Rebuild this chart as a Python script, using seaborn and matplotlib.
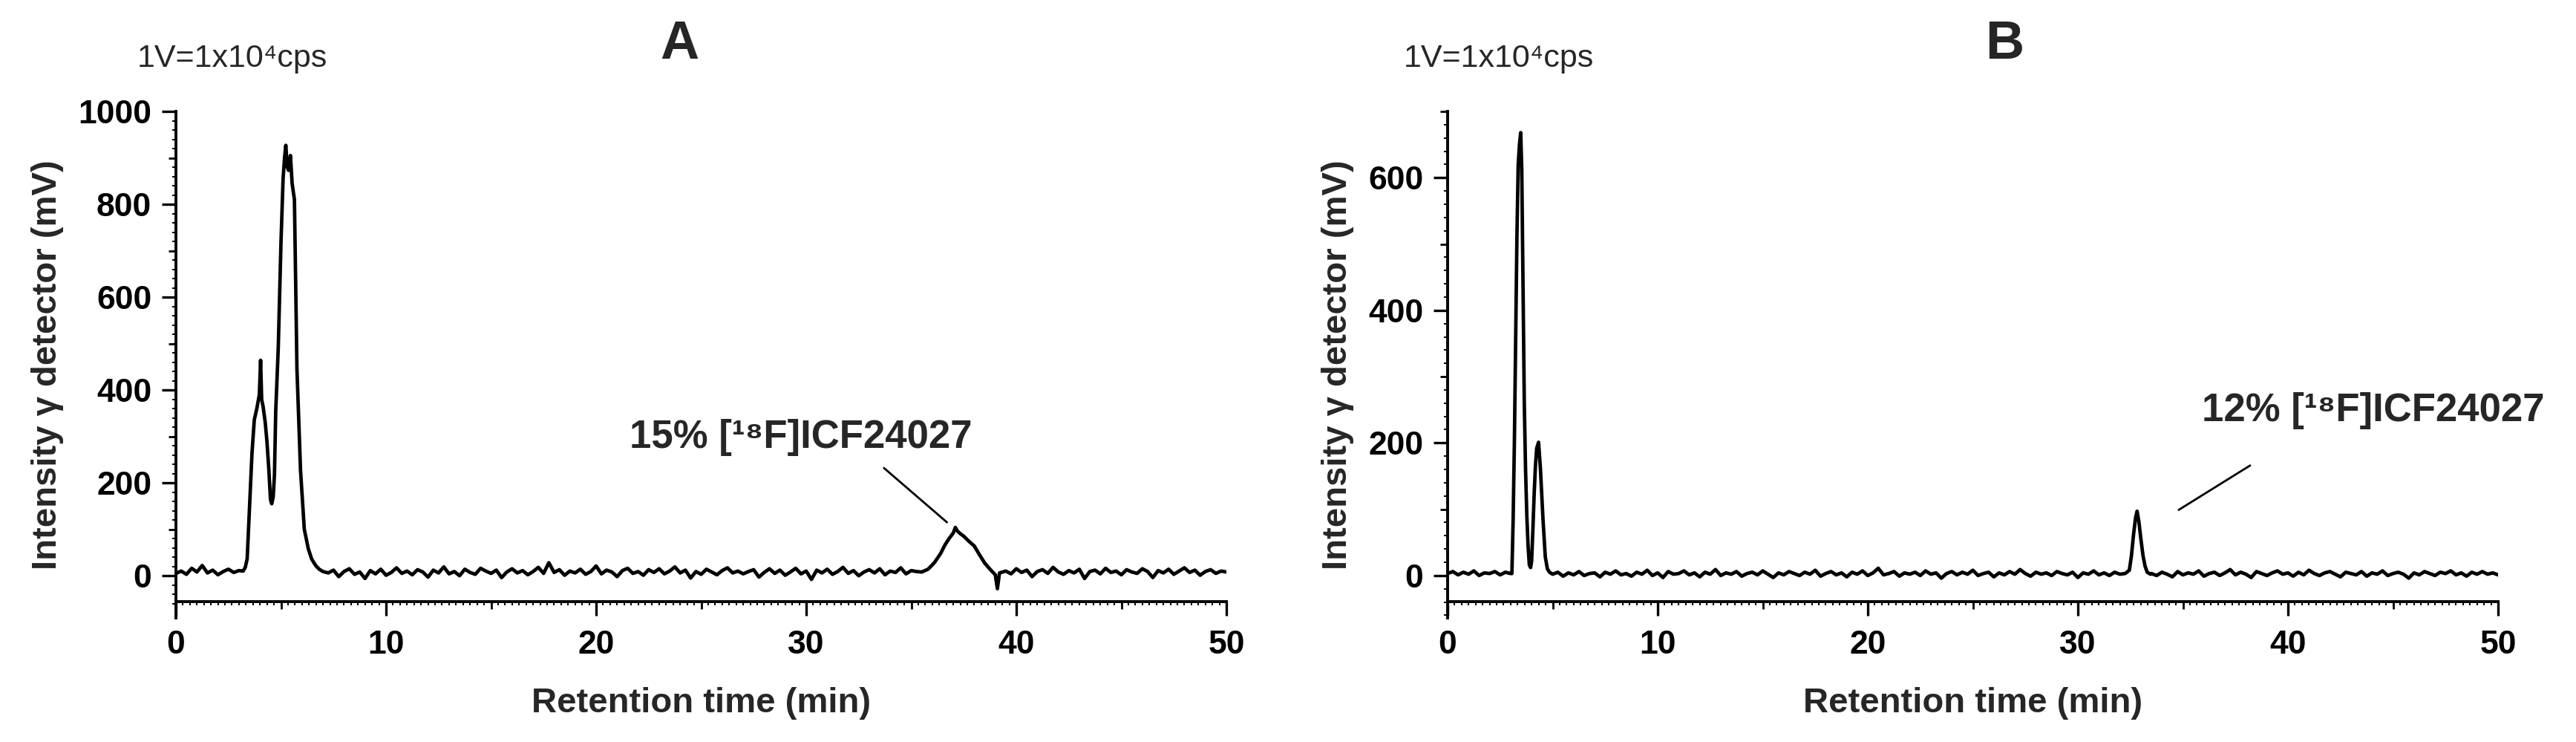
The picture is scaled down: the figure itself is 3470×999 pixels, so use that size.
import numpy as np
import pandas as pd
import matplotlib
matplotlib.use("Agg")
import matplotlib.pyplot as plt
from matplotlib.ticker import MultipleLocator
import seaborn as sns

# ---------------- data ----------------
# Panel A
a_base1_t = np.arange(0.0, 3.001, 0.25)
a_base1_mv = [5, 10, 3, 16, 8, 22, 6, 12, 2, 9, 14, 7, 11]
a_peak_t = [3.2, 3.3, 3.39, 3.5, 3.62, 3.73, 3.85, 3.97, 4.03, 4.08, 4.15, 4.25, 4.33,
            4.42, 4.5, 4.56, 4.63, 4.69, 4.75, 4.87, 5.0, 5.1, 5.17, 5.23, 5.3, 5.36,
            5.45, 5.53, 5.64, 5.76, 5.93, 6.11, 6.3, 6.46, 6.65, 6.82, 7.0]
a_peak_mv = [10, 18, 36, 145, 264, 336, 360, 390, 464, 380, 364, 330, 290,
             230, 164, 155, 170, 218, 355, 490, 718, 855, 900, 927, 880, 873,
             905, 845, 810, 445, 227, 100, 58, 36, 22, 14, 9]
a_base2_t = np.arange(7.25, 35.251, 0.25)
a_base2_mv = [6, 12, -2, 9, 15, 3, 8, -6,
              11, 4, 14, 1, 7, 17, 5, 10,
              2, 13, 8, -3, 12, 6, 19, 4,
              9, 0, 14, 7, 3, 16, 10, 5,
              12, -4, 8, 15, 6, 11, 2, 9,
              18, 5, 28, 7, 13, 1, 10, 6,
              14, 3, 9, 21, 4, 12, 8, -2,
              11, 16, 5, 9, 1, 13, 7, 15,
              4, 10, 19, 6, 12, -5, 9, 3,
              14, 8, 2, 11, 17, 6, 10, 4,
              9, 13, -3, 7, 15, 5, 12, 1,
              8, 16, 4, 10, -8, 12, 6, 14,
              3, 9, 18, 5, 11, 0, 8, 13,
              6, 15, 2, 10, 7, 17, 4, 11,
              9]
a_peak2_t = [35.5, 35.8, 36.1, 36.4, 36.6, 36.8, 37.0, 37.1, 37.2, 37.35, 37.5,
             37.75, 38.0, 38.25, 38.5, 38.75, 39.0, 39.1, 39.2]
a_peak2_mv = [8, 14, 28, 48, 66, 80, 92, 104, 96, 90, 85, 74, 64, 45, 27, 14, 2, -28, 6]
a_base3_t = np.arange(39.5, 50.001, 0.25)
a_base3_mv = [10, 4, 15, 7, 12, -2, 9, 13, 5, 18, 8, 3, 11, 6, 14, -6, 9, 12, 4, 16,
              7, 10, 2, 13, 8, 5, 15, 9, -4, 11, 6, 14, 3, 10, 17, 7, 12, 1, 9, 13,
              5, 10, 8]

# Panel B
b_base1_t = np.arange(0.0, 3.001, 0.25)
b_base1_mv = [3, 6, 1, 5, 2, 7, 0, 4, 3, 6, 1, 5, 3]
b_peak_t = [3.06, 3.12, 3.18, 3.24, 3.30, 3.36, 3.42, 3.48, 3.53, 3.59, 3.65, 3.71,
            3.77, 3.83, 3.89, 3.95, 4.0, 4.06, 4.12, 4.18, 4.24, 4.33, 4.42, 4.54,
            4.65, 4.75, 4.85]
b_peak_mv = [3, 85, 204, 361, 512, 620, 650, 668, 613, 437, 261, 160,
             91, 45, 16, 12, 22, 70, 123, 165, 192, 201, 160, 85,
             28, 10, 5]
b_base2_t = np.arange(5.0, 32.001, 0.25)
b_base2_mv = [2, 5, -1, 4, 1, 6, 0, 3,
              4, -2, 5, 2, 7, 1, 3, -1,
              5, 2, 8, 0, 4, -3, 6, 2,
              3, 7, 1, 4, -2, 5, 2, 9,
              0, 4, 2, 6, -1, 3, 5, 1,
              7, 2, -3, 4, 1, 6, 3, 0,
              5, 2, 8, -1, 3, 6, 1, 4,
              -2, 5, 2, 7, 0, 4, 11, 1,
              3, 6, -1, 4, 2, 5, 0, 7,
              2, 4, -4, 3, 6, 1, 5, 2,
              8, 0, 3, 5, -2, 4, 1, 6,
              2, 9, 3, -1, 5, 2, 4, 0,
              6, 3, 1, 5, -3, 4, 2, 7,
              1, 4, 0, 5, 2]
b_peak2_t = [32.25, 32.45, 32.55, 32.65, 32.75, 32.82, 32.9, 33.0, 33.1, 33.2, 33.3, 33.45]
b_peak2_mv = [3, 8, 30, 62, 88, 97, 82, 55, 30, 14, 5, 2]
b_base3_t = np.arange(33.5, 50.001, 0.25)
b_base3_mv = [3, 0, 5, 2, -2, 6, 1, 4,
              2, 7, -1, 3, 5, 0, 4, 9,
              1, 5, 2, -3, 6, 3, 0, 4,
              7, 2, 4, -1, 5, 1, 8, 3,
              0, 4, 6, 2, -2, 5, 3, 1,
              6, -1, 4, 2, 7, 0, 3, 5,
              2, -4, 4, 1, 6, 3, 0, 5,
              3, 7, 1, 4, -1, 5, 2, 6,
              2, 4, 1]

x_ticks = [0, 10, 20, 30, 40, 50]
a_yticks = [0, 200, 400, 600, 800, 1000]
b_yticks = [0, 200, 400, 600]
unit_text = "1V=1x10\u2074cps"
label_a = "15% [\u00b9\u2078F]ICF24027"
label_b = "12% [\u00b9\u2078F]ICF24027"
xlabel = "Retention time (min)"
ylabel = "Intensity \u03b3 detector (mV)"


def trace(parts):
    t = np.concatenate([np.asarray(p[0], float) for p in parts])
    v = np.concatenate([np.asarray(p[1], float) for p in parts])
    order = np.argsort(t, kind="stable")
    return pd.DataFrame({"t": t[order], "mv": v[order]})


df_a = trace([(a_base1_t, a_base1_mv), (a_peak_t, a_peak_mv), (a_base2_t, a_base2_mv),
              (a_peak2_t, a_peak2_mv), (a_base3_t, a_base3_mv)])
df_b = trace([(b_base1_t, b_base1_mv), (b_peak_t, b_peak_mv), (b_base2_t, b_base2_mv),
              (b_peak2_t, b_peak2_mv), (b_base3_t, b_base3_mv)])

# ---------------- style ----------------
sns.set_theme(style="ticks")
plt.rcParams["font.family"] = ["Liberation Sans", "DejaVu Sans"]
plt.rcParams["font.weight"] = "bold"
plt.rcParams["axes.labelweight"] = "bold"

W, H = 3470, 999
fig = plt.figure(figsize=(W / 100, H / 100), dpi=100)
top_px, bot_px = 150, 832
axA = fig.add_axes([237 / W, 1 - bot_px / H, 1415 / W, (bot_px - top_px) / H])
axB = fig.add_axes([1950 / W, 1 - bot_px / H, 1415 / W, (bot_px - top_px) / H])


def style_axis(ax, df, ylim, xaxis_at, yticks):
    sns.lineplot(data=df, x="t", y="mv", ax=ax, color="black", linewidth=3.4,
                 estimator=None, sort=False, legend=False)
    ax.set_xlim(0, 50)
    ax.set_ylim(*ylim)
    ax.set_xticks(x_ticks)
    ax.set_yticks(yticks)
    ax.xaxis.set_minor_locator(MultipleLocator(5))
    ax.yaxis.set_minor_locator(MultipleLocator(100))
    for s in ["top", "right"]:
        ax.spines[s].set_visible(False)
    for s in ["left", "bottom"]:
        ax.spines[s].set_linewidth(2.8)
        ax.spines[s].set_color("black")
    ax.spines["bottom"].set_position(("data", xaxis_at))
    ax.tick_params(axis="both", which="major", direction="out", length=13.5, width=2.4,
                   labelsize=32, color="black", labelcolor="black")
    ax.tick_params(axis="both", which="minor", direction="out", length=7.5, width=2.0,
                   color="black")
    ax.tick_params(axis="y", which="major", pad=10)
    ax.tick_params(axis="x", which="major", pad=14)
    ax.set_xlabel(xlabel, fontsize=34, fontweight="bold", labelpad=26)
    ax.set_ylabel(ylabel, fontsize=34, fontweight="bold", labelpad=14)
    ax.set_facecolor("white")

    # fine "dotted" ticks along both axes (Origin style)
    frac = (xaxis_at - ylim[0]) / (ylim[1] - ylim[0])
    secx = ax.secondary_xaxis(frac)
    secx.set_xticks(np.arange(0, 50.001, 1 / 3))
    secx.tick_params(axis="x", which="major", direction="out", length=3.5, width=1.4,
                     labelbottom=False, color="black")
    secx.xaxis.set_minor_locator(plt.NullLocator())
    for sp in secx.spines.values():
        sp.set_visible(False)
    secy = ax.secondary_yaxis(0)
    secy.set_yticks(np.arange(-60, ylim[1] + 0.1, 20))
    secy.tick_params(axis="y", which="major", direction="out", length=3.5, width=1.4,
                     labelleft=False, color="black")
    secy.yaxis.set_minor_locator(plt.NullLocator())
    for sp in secy.spines.values():
        sp.set_visible(False)


style_axis(axA, df_a, (-91, 1000), -56, a_yticks)
style_axis(axB, df_b, (-64, 700), -39, b_yticks)

# annotations
axA.text(37.9, 276, label_a, ha="right", va="baseline", fontsize=38, fontweight="bold")
axA.plot([33.7, 36.7], [232, 115], color="black", linewidth=2)
axB.text(35.9, 233, label_b, ha="left", va="baseline", fontsize=38, fontweight="bold",
         clip_on=False)
axB.plot([34.8, 38.2], [99, 166], color="black", linewidth=2)

# figure texts
fig.text(185 / W, 1 - 90 / H, unit_text, ha="left", va="baseline", fontsize=31,
         fontweight="normal")
fig.text(1891 / W, 1 - 90 / H, unit_text, ha="left", va="baseline", fontsize=31,
         fontweight="normal")
fig.text(915 / W, 1 - 60 / H, "A", ha="center", va="center", fontsize=52, fontweight="bold")
fig.text(2700 / W, 1 - 60 / H, "B", ha="center", va="center", fontsize=52, fontweight="bold")

fig.savefig("out.png", dpi=100, facecolor="white")
